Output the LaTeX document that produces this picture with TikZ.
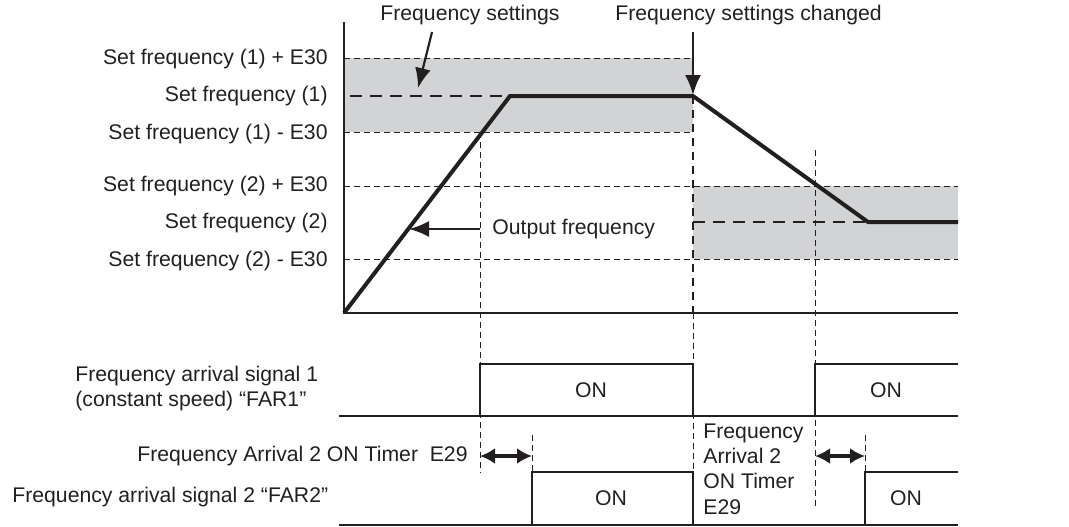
\documentclass[tikz,border=0pt]{standalone}
\usepackage{fontspec}
\setmainfont{Liberation Sans}
\usepackage{tikz}
\usetikzlibrary{arrows.meta,positioning,calc}
\definecolor{ink}{RGB}{35,31,32}
\definecolor{band}{RGB}{209,211,212}

\begin{document}
\begin{tikzpicture}[x=0.5pt,y=-0.5pt,
  lbl/.style={font=\fontsize{10.6}{12.6}\selectfont,text=ink,inner sep=0pt,align=left},
  axis/.style={ink,line width=1pt},
  outf/.style={ink,line width=2pt,line join=miter},
  sig/.style={ink,line width=1pt},
  guide/.style={ink,line width=0.5pt,dash pattern=on 3pt off 2pt},
  setline/.style={ink,line width=1pt,dash pattern=on 6pt off 4pt},
  arr/.style={-{Latex[length=10pt,width=8pt]},ink,line width=1.1pt},
  darr/.style={{Latex[length=7.5pt,width=8pt]}-{Latex[length=7.5pt,width=8pt]},ink,line width=1.6pt},
]
  \useasboundingbox (0,0) rectangle (1069,526);

  % key points of the output frequency
  \coordinate (O) at (344,313);
  \coordinate (up) at (510,96);
  \coordinate (chg) at (693,96);
  \coordinate (dn) at (868,222);
  \coordinate (end) at (958,222);

  % bands round the set frequencies
  \fill[band] (344,58) rectangle (693,132);
  \fill[band] (693,186) rectangle (958,259);
  \draw[guide] (344,58) -- (693,58);
  \draw[guide] (344,132) -- (693,132);
  \draw[guide] (344,186) -- (958,186);
  \draw[guide] (344,259) -- (958,259);
  \draw[setline] (350,96) -- (up);
  \draw[setline] (693,222) -- (dn);

  % vertical guides
  \draw[guide] (480,132) -- (480,473);
  \draw[guide,line width=0.8pt,dash pattern=on 4pt off 3pt] (chg) -- (693,313);
  \draw[guide] (693,313) -- (693,472);
  \draw[guide] (815,150) -- (815,507);
  \draw[guide] (532,435) -- (532,472);
  \draw[guide] (865,435) -- (865,472);

  % axes and output
  \draw[axis] (344,22) -- (O) -- (958,313);
  \draw[outf] (O) -- (up) -- (chg) -- (dn) -- (end);

  % level labels
  \node[lbl,anchor=east] (sf1p) at (328,59) {Set frequency (1) + E30};
  \node[lbl,anchor=east] (sf1) at (328,96) {Set frequency (1)};
  \node[lbl,anchor=east] (sf1m) at (328,134) {Set frequency (1) - E30};
  \node[lbl,anchor=east] (sf2p) at (328,186) {Set frequency (2) + E30};
  \node[lbl,anchor=east] (sf2) at (328,223) {Set frequency (2)};
  \node[lbl,anchor=east] (sf2m) at (328,261) {Set frequency (2) - E30};

  % callouts
  \node[lbl,anchor=west] (fs) at (380,15) {Frequency settings};
  \node[lbl,anchor=west] (fsc) at (615,15) {Frequency settings changed};
  \coordinate (fstip) at (418,88);
  \coordinate (fsfoot) at (432,32);
  \draw[arr] (fsfoot) -- (fstip);
  \draw[arr] ($(chg |- fsc.south)+(0,7)$) -- ($(chg)+(0,-1)$);
  \node[lbl,anchor=west] (of) at (492,229) {Output frequency};
  \coordinate (ramp) at (409,229);
  \draw[arr] ($(of.west)+(-12,0)$) -- (ramp);

  % arrival signals
  \draw[sig] (339,416) -- (958,416);
  \draw[sig] (480,416) -- (480,364) -- (693,364) -- (693,416);
  \draw[sig] (815,416) -- (815,364) -- (958,364);
  \draw[sig] (339,525) -- (958,525);
  \draw[sig] (532,525) -- (532,472) -- (693,472) -- (693,525);
  \draw[sig] (865,525) -- (865,472) -- (958,472);
  \node[lbl] (on1a) at (591,390) {ON};
  \node[lbl] (on1b) at (886,390) {ON};
  \node[lbl] (on2a) at (611,498) {ON};
  \node[lbl] (on2b) at (906,498) {ON};

  \node[lbl,anchor=west,font=\fontsize{10.6}{12.5}\selectfont] (far1) at (75,389)
    {Frequency arrival signal 1\\(constant speed) “FAR1”};
  \node[lbl,anchor=west] (far2) at (12,497) {Frequency arrival signal 2 “FAR2”};

  % on delay E29
  \coordinate (t1a) at (480,456);
  \coordinate (t1b) at (532,456);
  \coordinate (t2a) at (815,456);
  \coordinate (t2b) at (865,456);
  \draw[darr] (t1a) -- (t1b);
  \draw[darr] (t2a) -- (t2b);
  \node[lbl,anchor=east] (tmr) at (468,456) {Frequency Arrival 2 ON Timer\ \ E29};
  \node[lbl,anchor=west,font=\fontsize{10.6}{12.6}\selectfont] (tmr2) at (703,469)
    {Frequency\\Arrival 2\\ON Timer\\E29};
\end{tikzpicture}
\end{document}
